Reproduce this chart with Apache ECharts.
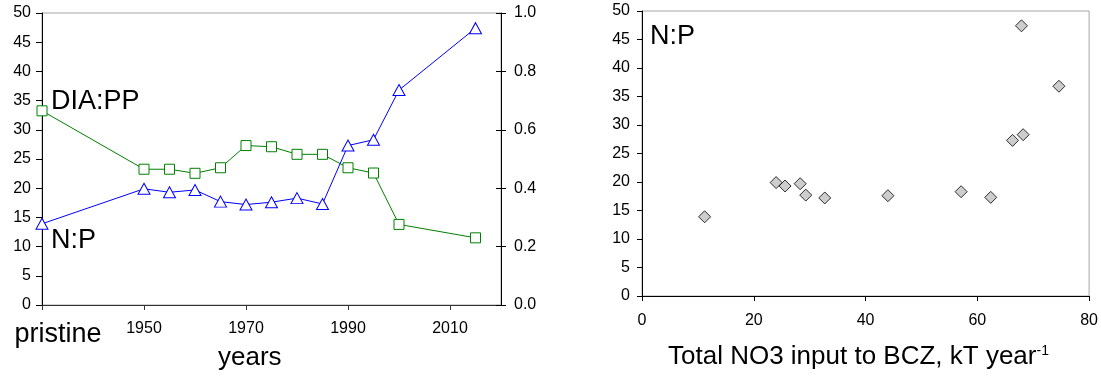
<!DOCTYPE html>
<html>
<head>
<meta charset="utf-8">
<script src="https://cdn.jsdelivr.net/npm/echarts@6/dist/echarts.min.js"></script>
<style>
  html, body { margin: 0; padding: 0; background: #fff; }
  #chart { width: 1101px; height: 377px; }
</style>
</head>
<body>
<div id="chart"></div>
<script>
// Sampling years; the pristine state is placed at 1930 on the time axis
const years = [1930, 1950, 1955, 1960, 1965, 1970, 1975, 1980, 1985, 1990, 1995, 2000, 2015];
const pristineYear = 1930;
// N:P ratio (left axis) and diatom : primary production ratio (right axis)
const npRatio = [13.9, 19.9, 19.3, 19.7, 17.7, 17.2, 17.6, 18.3, 17.3, 27.3, 28.3, 36.8, 47.4];
const diaPpRatio = [0.665, 0.465, 0.465, 0.451, 0.470, 0.546, 0.542, 0.516, 0.516, 0.470, 0.452, 0.276, 0.230];
// Total NO3 input to BCZ (kT per year) for the same periods
const no3Input = [11.2, 24.0, 25.6, 28.3, 29.3, 32.7, 44.0, 57.1, 62.4, 66.3, 68.2, 74.6, 67.9];

const FONT = '"Liberation Sans", Arial, sans-serif';
const tickLabel = { fontFamily: FONT, fontSize: 16, color: '#000' };
const blackLine = { show: true, lineStyle: { color: '#000', width: 1 } };

const chart = echarts.init(document.getElementById('chart'), null, { renderer: 'canvas' });

chart.setOption({
  animation: false,
  backgroundColor: '#fff',
  grid: [
    { left: 42, right: 600, top: 13, bottom: 72, show: true, borderColor: '#a6a6a6', borderWidth: 1, backgroundColor: 'transparent' },
    { left: 642, right: 11, top: 11, bottom: 81, show: true, borderColor: '#a6a6a6', borderWidth: 1, backgroundColor: 'transparent' }
  ],
  xAxis: [
    {
      type: 'value', gridIndex: 0, min: 1930, max: 2020, interval: 20,
      axisLine: { show: true, lineStyle: { color: '#333', width: 1 } },
      axisTick: { show: true, length: 5, lineStyle: { color: '#333' } },
      splitLine: { show: false },
      axisLabel: Object.assign({}, tickLabel, {
        margin: 16,
        showMaxLabel: false,
        formatter: v => v === pristineYear ? '{p|pristine}' : (v >= 2020 ? '' : String(v)),
        rich: { p: { fontFamily: FONT, fontSize: 27, color: '#000', padding: [0, 0, 0, 32] } }
      })
    },
    {
      type: 'value', gridIndex: 1, min: 0, max: 80, interval: 20,
      axisLine: blackLine,
      axisTick: { show: true, length: 5, lineStyle: { color: '#000' } },
      splitLine: { show: false },
      axisLabel: Object.assign({}, tickLabel, { margin: 17 })
    }
  ],
  yAxis: [
    {
      type: 'value', gridIndex: 0, position: 'left', min: 0, max: 50, interval: 5,
      axisLine: blackLine,
      axisTick: { show: true, length: 6, lineStyle: { color: '#000' } },
      splitLine: { show: false },
      axisLabel: Object.assign({}, tickLabel, { margin: 11 })
    },
    {
      type: 'value', gridIndex: 0, position: 'right', min: 0, max: 1, interval: 0.2,
      axisLine: blackLine,
      axisTick: { show: true, length: 5, lineStyle: { color: '#000' } },
      splitLine: { show: false },
      axisLabel: Object.assign({}, tickLabel, { margin: 13, formatter: v => v.toFixed(1) })
    },
    {
      // inner half of the crossing ticks on the right-hand axis
      type: 'value', gridIndex: 0, position: 'right', min: 0, max: 1, interval: 0.2,
      axisLine: { show: false },
      axisTick: { show: true, inside: true, length: 5, lineStyle: { color: '#000' } },
      splitLine: { show: false },
      axisLabel: { show: false }
    },
    {
      type: 'value', gridIndex: 1, min: 0, max: 50, interval: 5,
      axisLine: blackLine,
      axisTick: { show: true, length: 5, lineStyle: { color: '#000' } },
      splitLine: { show: false },
      axisLabel: Object.assign({}, tickLabel, { margin: 12 })
    }
  ],
  series: [
    {
      name: 'DIA:PP', type: 'line', xAxisIndex: 0, yAxisIndex: 1,
      data: years.map((y, i) => [y, diaPpRatio[i]]),
      symbol: 'rect', symbolSize: 10,
      lineStyle: { color: '#008000', width: 1 },
      itemStyle: { color: '#fff', borderColor: '#008000', borderWidth: 1 }
    },
    {
      name: 'N:P', type: 'line', xAxisIndex: 0, yAxisIndex: 0,
      data: years.map((y, i) => [y, npRatio[i]]),
      symbol: 'triangle', symbolSize: [12, 11],
      lineStyle: { color: '#0000ff', width: 1 },
      itemStyle: { color: '#fff', borderColor: '#0000ff', borderWidth: 1 }
    },
    {
      name: 'N:P vs NO3', type: 'scatter', xAxisIndex: 1, yAxisIndex: 3,
      data: no3Input.map((x, i) => [x, npRatio[i]]),
      symbol: 'diamond', symbolSize: 12,
      itemStyle: { color: '#c0c0c0', borderColor: '#000', borderWidth: 1 }
    }
  ],
  graphic: [
    { type: 'text', left: 51, top: 88, style: { text: 'DIA:PP', font: '27px ' + FONT, fill: '#000' } },
    { type: 'text', left: 51, top: 227, style: { text: 'N:P', font: '27px ' + FONT, fill: '#000' } },
    { type: 'text', left: 650, top: 23, style: { text: 'N:P', font: '27px ' + FONT, fill: '#000' } },
    { type: 'text', left: 218, top: 345, style: { text: 'years', font: '26px ' + FONT, fill: '#000' } },
    {
      type: 'text', left: 668, top: 344,
      style: {
        text: '{a|Total NO3 input to BCZ, kT year}{s|-1}',
        rich: {
          a: { fontFamily: FONT, fontSize: 26, color: '#000' },
          s: { fontFamily: FONT, fontSize: 14, color: '#000', verticalAlign: 'top', padding: [0, 0, 10, 0] }
        }
      }
    }
  ]
});
</script>
</body>
</html>
